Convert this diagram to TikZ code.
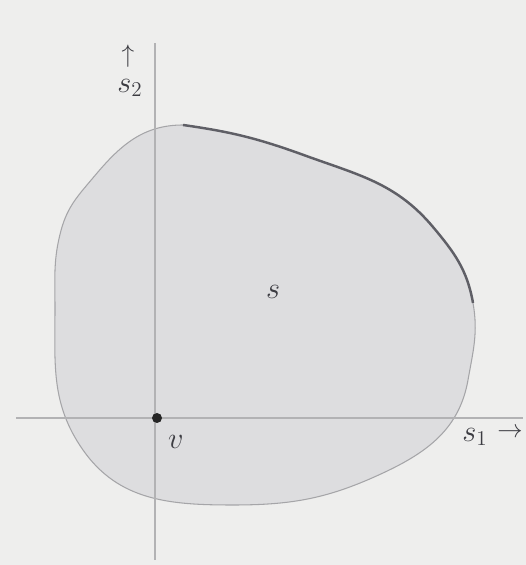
\documentclass[tikz,border=0pt]{standalone}
\usepackage{xcolor}
\usepackage{tikz}
\usetikzlibrary{positioning, calc, backgrounds}
\definecolor{pagebg}{RGB}{238,238,237}
\definecolor{setfill}{RGB}{221,221,223}
\definecolor{setline}{RGB}{165,165,168}
\definecolor{paretoline}{RGB}{95,95,102}
\definecolor{axisline}{RGB}{178,178,180}
\definecolor{labeltext}{RGB}{60,60,66}

\begin{document}
\begin{tikzpicture}[
                setregion/.style={fill=setfill, draw=setline, line width=0.6pt},
                pareto/.style={draw=paretoline, line width=1.4pt},
                axis/.style={draw=axisline, line width=0.9pt},
                lbl/.style={text=labeltext, font=\LARGE, inner sep=0pt},
                arrowlbl/.style={text=labeltext, font=\Large, inner sep=0pt},
                origin/.style={circle, fill=black!85, inner sep=0pt, minimum size=0.2cm}
            ]%
            % Fondo
            \fill[pagebg] (-3.1,-2.94) rectangle (7.42,8.36);
            \useasboundingbox (-3.1,-2.94) rectangle (7.42,8.36);
            %
            % Puntos del contorno
            \coordinate (top) at (0.56,5.86);
            \coordinate (ne1) at (3.0,5.25);
            \coordinate (ne2) at (5.56,3.82);
            \coordinate (east) at (6.36,2.3);
            \coordinate (e2) at (6.26,0.76);
            \coordinate (se) at (4.56,-1.1);
            \coordinate (bottom) at (1.56,-1.74);
            \coordinate (sw) at (-1.44,-0.64);
            \coordinate (west) at (-2.0,2.2);
            \coordinate (wnw) at (-1.88,3.75);
            \coordinate (nw) at (-1.2,4.85);
            %
            % Conjunto
            \path[setregion] (top) to[out=-8,in=160] (ne1) to[out=-20,in=130] (ne2)
                to[out=-50,in=100] (east) to[out=-80,in=80] (e2) to[out=-100,in=25] (se)
                to[out=-155,in=0] (bottom) to[out=180,in=-55] (sw) to[out=125,in=-90] (west)
                to[out=90,in=-105] (wnw) to[out=75,in=-130] (nw) to[out=50,in=180] (top) -- cycle;
            %
            % Frontera superior
            \draw[pareto] (top) to[out=-8,in=160] (ne1) to[out=-20,in=130] (ne2) to[out=-50,in=100] (east);
            %
            % Ejes
            \coordinate (xmin) at (-2.78,0);
            \coordinate (xmax) at (7.36,0);
            \coordinate (ymin) at (0,-2.84);
            \coordinate (ymax) at (0,7.5);
            \draw[axis] (xmin) -- (xmax);
            \draw[axis] (ymin) -- (ymax);
            %
            % Etiquetas
            \node[origin] (v) at (0.04,0) {};
            \node[lbl, below right=0.26cm and 0.14cm of v] (vlab) {$v$};
            \node[lbl] (slab) at (2.36,2.52) {$s$};
            \node[lbl] (s1) at (6.4,-0.38) {$s_1$};
            \node[arrowlbl] (s1arrow) at (7.1,-0.3) {$\rightarrow$};
            \node[lbl] (s2) at (-0.5,6.6) {$s_2$};
            \node[arrowlbl] (s2arrow) at (-0.54,7.24) {$\uparrow$};
        \end{tikzpicture}
\end{document}
